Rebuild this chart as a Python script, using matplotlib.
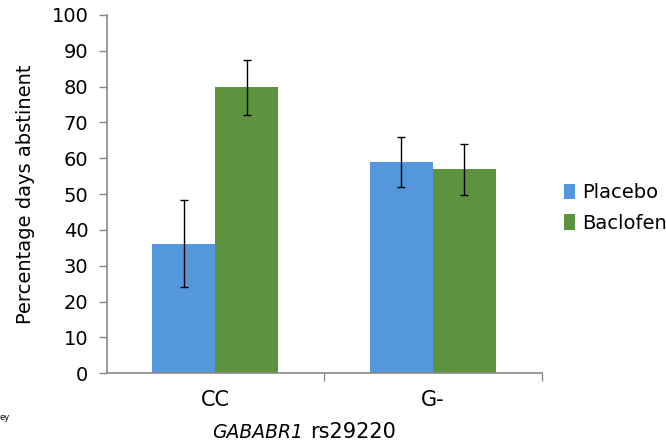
import numpy as np
import matplotlib.pyplot as plt

# data
genotypes = ['CC', 'G-']
placebo = [36.2, 58.9]
baclofen = [79.8, 56.9]
placebo_err = [12.2, 7.0]
baclofen_err = [7.6, 7.1]

plt.rcParams['font.family'] = ['DejaVu Sans']

fig = plt.figure(figsize=(6.66, 4.45), dpi=100)
ax = fig.add_axes([106.5/666, 1-373.3/445, (541.7-106.5)/666, (373.3-15)/445])

x = np.arange(len(genotypes))
w = 0.29
ax.bar(x - w/2, placebo, w, color='#5497DB', label='Placebo', zorder=2)
ax.bar(x + w/2, baclofen, w, color='#5D933F', label='Baclofen', zorder=2)
ax.errorbar(x - w/2, placebo, yerr=placebo_err, fmt='none', ecolor='black',
            elinewidth=1, capsize=3, capthick=1, zorder=3)
ax.errorbar(x + w/2, baclofen, yerr=baclofen_err, fmt='none', ecolor='black',
            elinewidth=1, capsize=3, capthick=1, zorder=3)

ax.set_xlim(-0.5, 1.5)
ax.set_ylim(0, 100)
ax.set_yticks(range(0, 101, 10))
ax.set_xticks(x)
ax.set_xticklabels(genotypes, fontsize=15)
ax.set_xticks([0.5, 1.5], minor=True)
ax.tick_params(axis='x', which='major', length=0, pad=12)
ax.tick_params(axis='x', which='minor', length=6, color='#898989', width=1)
ax.tick_params(axis='y', labelsize=14, length=6, color='#898989', width=1, pad=7)

for s in ['top', 'right']:
    ax.spines[s].set_visible(False)
for s in ['left', 'bottom']:
    ax.spines[s].set_color('#898989')
    ax.spines[s].set_linewidth(1.2)

ax.set_ylabel('Percentage days abstinent', fontsize=14, labelpad=12)
fig.text(303/666, 1-432/445, 'GABABR1', fontsize=13.5, style='italic', ha='right', va='center')
fig.text(310/666, 1-432/445, 'rs29220', fontsize=15, ha='left', va='center')

handles, labels = ax.get_legend_handles_labels()
ax.legend(handles, labels, loc='center left', bbox_to_anchor=(546/666, 1-208/445),
          bbox_transform=fig.transFigure, frameon=False, fontsize=14,
          handlelength=0.6, handleheight=0.85, handletextpad=0.35, labelspacing=0.6)

fig.text(0, 1-418/445, 'ey', fontsize=6, ha='left', va='center')

fig.savefig('out.png', dpi=100)
